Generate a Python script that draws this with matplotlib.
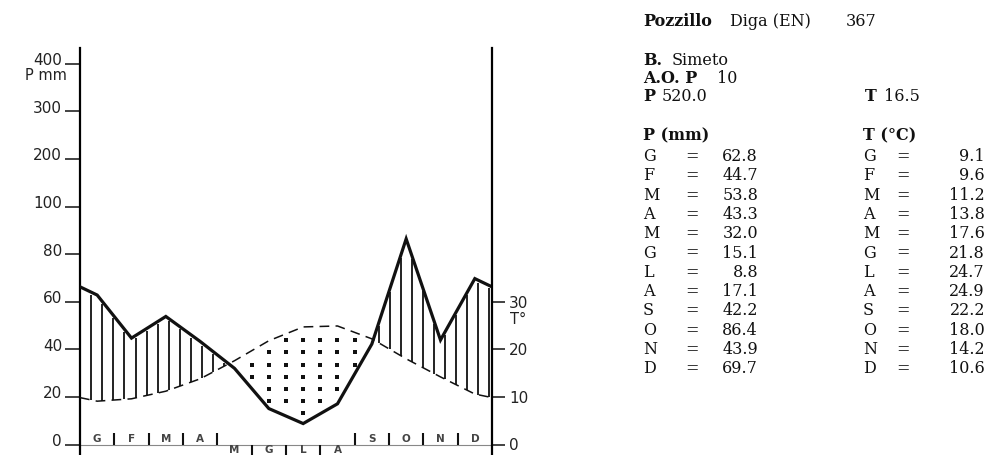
import numpy as np
import matplotlib

matplotlib.use("Agg")
import matplotlib.pyplot as plt  # noqa: E402
from matplotlib.transforms import offset_copy  # noqa: E402

MONTHS = ["G", "F", "M", "A", "M", "G", "L", "A", "S", "O", "N", "D"]
P_MM = [62.8, 44.7, 53.8, 43.3, 32.0, 15.1, 8.8, 17.1, 42.2, 86.4, 43.9, 69.7]
T_C = [9.1, 9.6, 11.2, 13.8, 17.6, 21.8, 24.7, 24.9, 22.2, 18.0, 14.2, 10.6]
P_TICKS = [0, 20, 40, 60, 80, 100, 200, 300, 400]
T_TICKS = [0, 10, 20, 30]
LOWER_MONTHS = [4, 5, 6, 7]  # labels printed below the baseline

STATION = "Pozzillo"
STATION_REST = "Diga (EN)"
ALTITUDE = "367"
BASIN = "Simeto"
YEARS = "10"
P_TOTAL = "520.0"
T_MEAN = "16.5"

W, H = 989, 455
INK = "#111111"
LAB = "#222222"
SERIF = "DejaVu Serif"

plt.rcParams.update({"lines.scale_dashes": False, "font.family": "DejaVu Sans"})


def fwd(p):
    p = np.asarray(p, float)
    return np.where(p <= 100, p, 100 + (p - 100) / 5)


def inv(y):
    y = np.asarray(y, float)
    return np.where(y <= 100, y, 100 + (y - 100) * 5)


fig = plt.figure(figsize=(W / 100, H / 100), dpi=100)
ax = fig.add_axes([80 / W, 0, (492 - 80) / W, (H - 48) / H])
ax.set_yscale("function", functions=(fwd, inv))
mm_px = 20 / 47.6
y_lo = -(H - 444.5) * mm_px
y_hi = (444.5 - 48) * mm_px
ax.set_ylim(y_lo, float(inv(y_hi)))
ax.set_xlim(0, 12)

# extended series, wrapping to the diagram edges
xm = np.arange(12) + 0.5
x_ext = np.concatenate([[0], xm, [12]])
p_edge = (P_MM[-1] + P_MM[0]) / 2
t_edge = (T_C[-1] + T_C[0]) / 2
P_ext = np.array([p_edge] + P_MM + [p_edge])
T_ext = np.array([t_edge] + T_C + [t_edge]) * 2  # 10 degC = 20 mm

# humid hatching
xh = np.arange(0.33, 12, 0.322)
ph = np.interp(xh, x_ext, P_ext)
th = np.interp(xh, x_ext, T_ext)
m = ph - 1.2 > th + 0.5
ax.vlines(xh[m], th[m], ph[m] - 1.2, color=INK, lw=1.3, zorder=3)

# arid dots
gx, gy = np.meshgrid(np.arange(0, 12.01, 0.5), (6.6 + 2.55 * np.arange(8)) * 2)
gp = np.interp(gx, x_ext, P_ext)
gt = np.interp(gx, x_ext, T_ext)
dm = (gy > gp + 2.0) & (gy < gt - 1.5)
ax.scatter(gx[dm], gy[dm], marker="s", s=5, color=INK, linewidths=0, zorder=3)

ax.plot(x_ext, T_ext, color=INK, lw=1.1, ls=(0, (7, 4.5)), zorder=4)
ax.plot(x_ext, P_ext, color=INK, lw=2.3, solid_joinstyle="miter", zorder=5)

# month strip
ax.axhline(0, color="#888888", lw=0.8, zorder=2)
for i, mo in enumerate(MONTHS):
    low = i in LOWER_MONTHS
    ax.text(i + 0.5, -2.3 if low else 2.3, mo, ha="center", va="center",
            fontsize=7.5, color="#444444", fontweight="bold")
for b in range(1, 12):
    if b - 1 in LOWER_MONTHS and b in LOWER_MONTHS:
        ax.vlines(b, -4.6, 0, color=INK, lw=1.5)
    else:
        ax.vlines(b, 0, 4.8, color=INK, lw=1.5)

# left axis (precipitation)
for s in ("top", "bottom", "right"):
    ax.spines[s].set_visible(False)
ax.spines["left"].set_linewidth(1.6)
ax.set_xticks([])
ax.set_yticks(P_TICKS)
ax.set_yticklabels([])
ax.tick_params(axis="y", direction="out", length=10.8, width=1.1, color=INK)
lab_tr = offset_copy(ax.get_yaxis_transform(), fig=fig, x=-18, y=3, units="dots")
for v in P_TICKS:
    ax.text(0, v, str(v), transform=lab_tr, ha="right", va="center",
            fontsize=11, color=LAB)
fig.text(67 / W, 1 - 75 / H, "P mm", ha="right", va="center", fontsize=10.5, color=LAB)

# right axis (temperature)
tx = ax.twinx()
tx.set_ylim(y_lo / 2, y_hi / 2)
for s in ("top", "bottom", "left"):
    tx.spines[s].set_visible(False)
tx.spines["right"].set_linewidth(1.6)
tx.set_yticks(T_TICKS)
tx.set_yticklabels([str(t) for t in T_TICKS], fontsize=11, color=LAB)
tx.tick_params(axis="y", direction="out", length=9.4, width=1.1, pad=3, color=INK)
fig.text(510 / W, 1 - 319 / H, "T°", ha="left", va="center", fontsize=10.5, color=LAB)


# station table
def put(x, y, s, bold=False, ha="left"):
    fig.text(x / W, 1 - y / H, s, ha=ha, va="baseline", fontsize=11.5, family=SERIF,
             fontweight="bold" if bold else "normal", color=INK)


put(643, 26, STATION, True)
put(730, 26, STATION_REST)
put(846, 26, ALTITUDE)
put(643, 65, "B.", True)
put(672, 65, BASIN)
put(643, 83, "A.O. P", True)
put(717, 83, YEARS)
put(643, 101, "P", True)
put(662, 101, P_TOTAL)
put(865, 101, "T", True)
put(884, 101, T_MEAN)
put(643, 140, "P (mm)", True)
put(863, 140, "T (°C)", True)
for i, mo in enumerate(MONTHS):
    yb = 161 + 19.3 * i
    put(643, yb, mo)
    put(692, yb, "=", ha="center")
    put(758, yb, f"{P_MM[i]:.1f}", ha="right")
    put(863, yb, mo)
    put(903, yb, "=", ha="center")
    put(985, yb, f"{T_C[i]:.1f}", ha="right")

fig.savefig("out.png", dpi=100, facecolor="white")
